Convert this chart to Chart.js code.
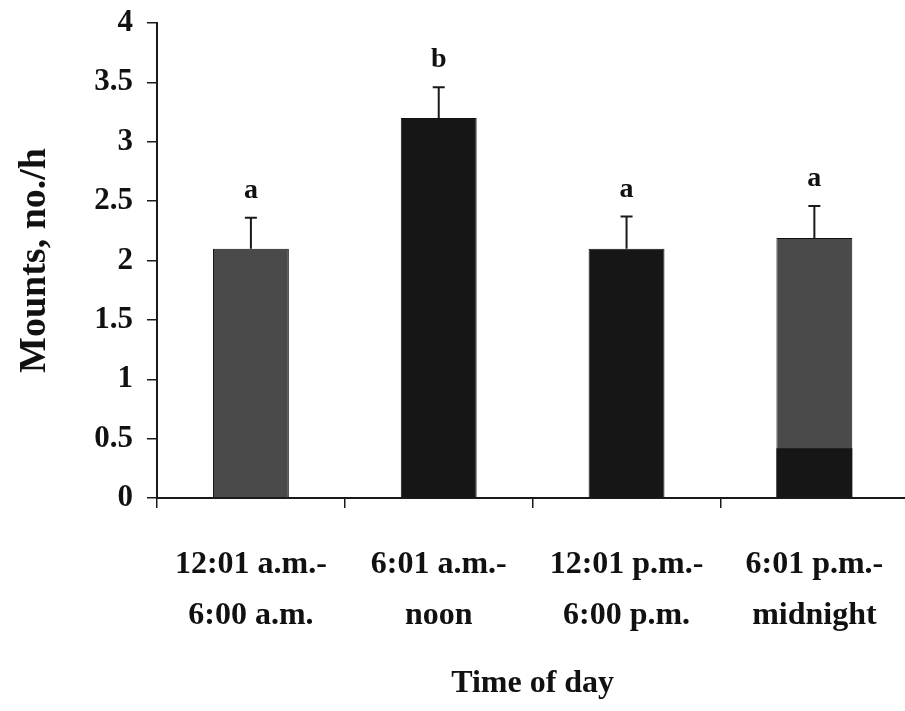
<!DOCTYPE html>
<html>
<head>
<meta charset="utf-8">
<script src="https://cdn.jsdelivr.net/npm/chart.js@4"></script>
<style>
  html, body { margin: 0; padding: 0; background: #fff; overflow: hidden; }
  #wrap { position: relative; width: 915px; height: 711px; }
</style>
</head>
<body>
<div id="wrap"><canvas id="myChart"></canvas></div>
<script>
// datos
const periodos = [
  ['12:01 a.m.-', '6:00 a.m.'],
  ['6:01 a.m.-', 'noon'],
  ['12:01 p.m.-', '6:00 p.m.'],
  ['6:01 p.m.-', 'midnight']
];
const montas = [2.1, 3.2, 2.1, 2.19];
const errorSup = [2.36, 3.46, 2.37, 2.46];
const letras = ['a', 'b', 'a', 'a'];
const baseOscura = [null, null, null, 0.42]; // franja negra al pie de la 4a barra
const etiquetasY = ['0', '0.5', '1', '1.5', '2', '2.5', '3', '3.5', '4'];

const GRIS = '#4a4a4a';
const NEGRO = '#161616';
const coloresBarra = [GRIS, NEGRO, NEGRO, GRIS];

// barras de error y letras de significancia
const extras = {
  id: 'extras',
  afterDatasetsDraw(chart) {
    const ctx = chart.ctx;
    const meta = chart.getDatasetMeta(1);
    const y = chart.scales.y;
    ctx.save();
    ctx.strokeStyle = '#1a1a1a';
    ctx.fillStyle = '#111';
    ctx.lineWidth = 2;
    meta.data.forEach((bar, i) => {
      const x = bar.x;
      const yTop = y.getPixelForValue(errorSup[i]);
      ctx.beginPath();
      ctx.moveTo(x, bar.y);
      ctx.lineTo(x, yTop);
      ctx.moveTo(x - 6, yTop);
      ctx.lineTo(x + 6, yTop);
      ctx.stroke();
      ctx.font = 'bold 28px "Liberation Serif", "Times New Roman", serif';
      ctx.textAlign = 'center';
      ctx.textBaseline = 'alphabetic';
      ctx.fillText(letras[i], x, yTop - 20);
    });
    ctx.restore();
  }
};

const fuente = '"Liberation Serif", "Times New Roman", serif';

new Chart(document.getElementById('myChart'), {
  type: 'bar',
  data: {
    labels: periodos,
    datasets: [
      {
        data: baseOscura,
        backgroundColor: NEGRO,
        borderWidth: 0,
        grouped: false,
        order: 0,
        barPercentage: 0.404,
        categoryPercentage: 1
      },
      {
        data: montas,
        backgroundColor: coloresBarra,
        borderColor: '#111',
        borderWidth: 1,
        grouped: false,
        order: 1,
        barPercentage: 0.404,
        categoryPercentage: 1
      }
    ]
  },
  options: {
    responsive: true,
    maintainAspectRatio: false,
    animation: false,
    layout: { padding: { top: 23, right: 6, bottom: 0, left: 0 } },
    plugins: {
      legend: { display: false },
      tooltip: { enabled: false }
    },
    scales: {
      x: {
        grid: {
          offset: true,
          drawOnChartArea: false,
          drawTicks: true,
          tickLength: 10,
          color: '#1a1a1a',
          lineWidth: 1.5
        },
        border: { display: true, color: '#1a1a1a', width: 2 },
        ticks: {
          color: '#111',
          padding: 31,
          maxRotation: 0,
          autoSkip: false,
          font: { family: fuente, size: 32, weight: 'bold', lineHeight: 1.6 }
        },
        title: {
          display: true,
          text: 'Time of day',
          color: '#111',
          padding: { top: 0, bottom: 8 },
          font: { family: fuente, size: 32, weight: 'bold', lineHeight: 1.2 }
        },
        afterFit(scale) { scale.height = 213; }
      },
      y: {
        min: 0,
        max: 4,
        grid: {
          drawOnChartArea: false,
          drawTicks: true,
          tickLength: 10,
          color: '#1a1a1a',
          lineWidth: 1.5
        },
        border: { display: true, color: '#1a1a1a', width: 2 },
        ticks: {
          stepSize: 0.5,
          color: '#111',
          padding: 14,
          font: { family: fuente, size: 31, weight: 'bold' },
          callback: (v, i) => etiquetasY[i]
        },
        title: {
          display: true,
          text: 'Mounts, no./h',
          color: '#111',
          padding: { top: 12, bottom: 0 },
          font: { family: fuente, size: 38, weight: 'bold', lineHeight: 1.2 }
        },
        afterFit(scale) {
          scale.width = 157;
          scale.paddingTop = 0;
          scale.paddingBottom = 0;
        }
      }
    }
  },
  plugins: [extras]
});
</script>
</body>
</html>
